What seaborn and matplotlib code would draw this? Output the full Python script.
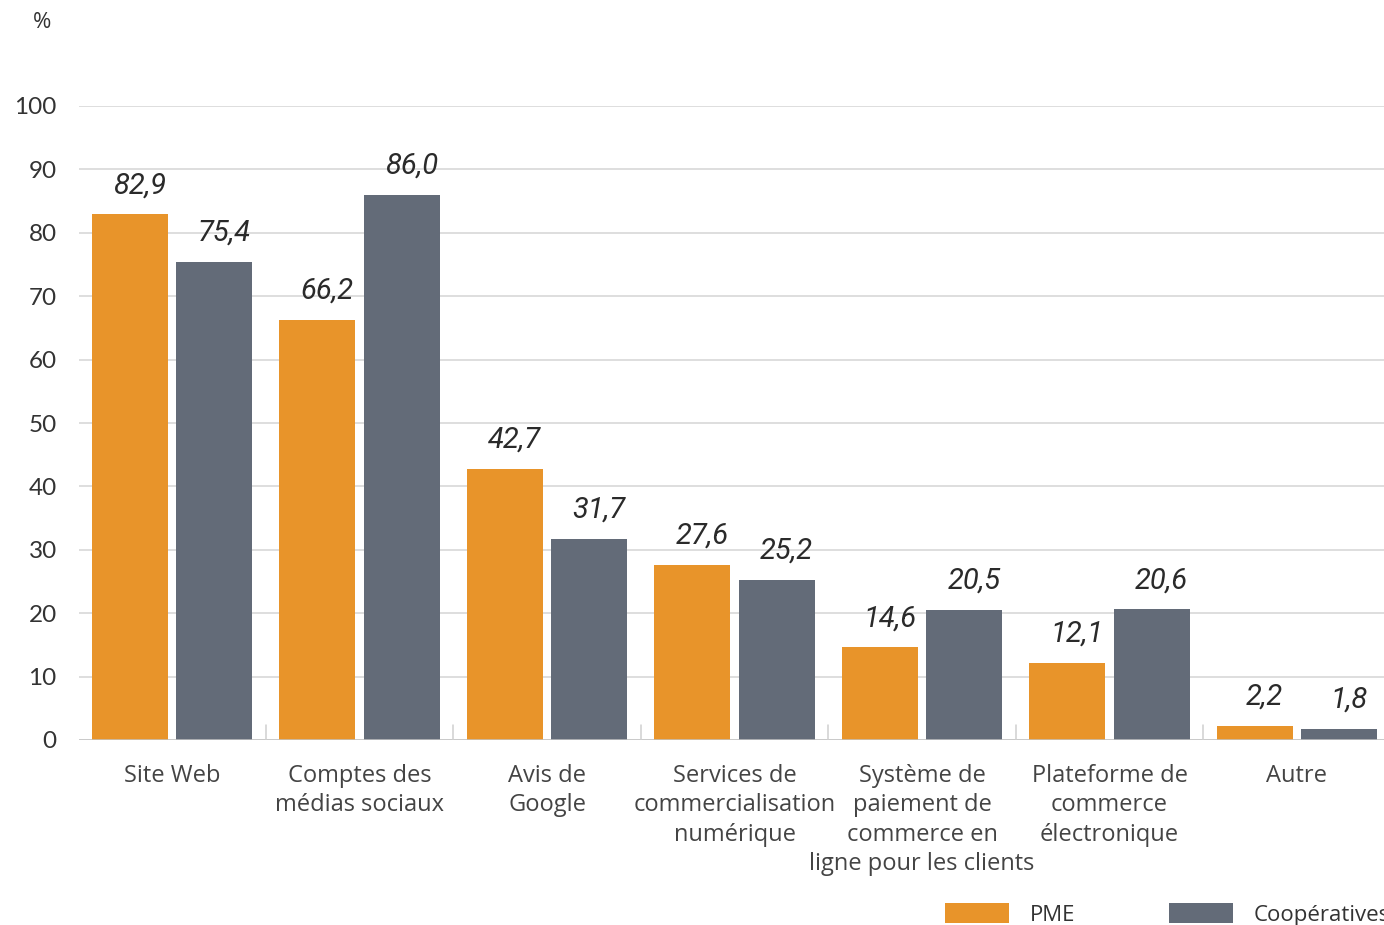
import matplotlib
matplotlib.use("Agg")
import matplotlib.pyplot as plt
from matplotlib.patches import Patch
import seaborn as sns
import pandas as pd

# Data
categories = [
    "Site Web",
    "Comptes des\nmédias sociaux",
    "Avis de\nGoogle",
    "Services de\ncommercialisation\nnumérique",
    "Système de\npaiement de\ncommerce en\nligne pour les clients",
    "Plateforme de\ncommerce\nélectronique",
    "Autre",
]
pme = [82.9, 66.2, 42.7, 27.6, 14.6, 12.1, 2.2]
coop = [75.4, 86.0, 31.7, 25.2, 20.5, 20.6, 1.8]
series = ["PME", "Coopératives"]
yticks = [0, 10, 20, 30, 40, 50, 60, 70, 80, 90, 100]

df = pd.DataFrame({
    "cat": categories * 2,
    "val": pme + coop,
    "grp": [series[0]] * len(categories) + [series[1]] * len(categories),
})

sns.set_theme(style="white")
plt.rcParams["font.family"] = ["Open Sans", "DejaVu Sans"]

W, H = 1384, 925
fig = plt.figure(figsize=(W / 100, H / 100), dpi=100)
# axes spans a little past the right edge of the figure
ax = fig.add_axes([79 / W, (H - 740) / H, 1312.5 / W, (740 - 106) / H])

orange = "#E8942A"
slate = "#636B78"
sns.barplot(data=df, x="cat", y="val", hue="grp", palette=[orange, slate],
            width=0.9, gap=0.1, ax=ax, legend=False, saturation=1, linewidth=0)

ax.set_xlim(-0.496, 6.504)
ax.set_ylim(0, 100)
ax.set_yticks(yticks)
ax.set_xlabel("")
ax.set_ylabel("")
for s in ["top", "right", "left", "bottom"]:
    ax.spines[s].set_visible(False)
ax.grid(axis="y", color="#d4d4d4", linewidth=1.1)
ax.grid(axis="x", visible=False)
ax.set_axisbelow(True)
ax.axhline(0, color="#c4c4c4", linewidth=1.8, zorder=3)

# small separators between groups
for i in range(len(categories) - 1):
    ax.plot([i + 0.5, i + 0.5], [0, 2.4], color="#d0d0d0", linewidth=1.1, zorder=3)

ax.tick_params(axis="y", length=0, pad=16, labelcolor="#333333")
ax.tick_params(axis="x", length=0, pad=17, labelsize=17, labelcolor="#444444")
for lab in ax.get_yticklabels():
    lab.set_fontfamily(["Lato", "DejaVu Sans"])
    lab.set_fontsize(17.5)
for lab in ax.get_xticklabels():
    lab.set_linespacing(1.31)

for cont in ax.containers:
    texts = ax.bar_label(cont, labels=[f"{v:.1f}".replace(".", ",") for v in cont.datavalues],
                         padding=11, fontsize=21, fontstyle="italic", color="#2a2a2a",
                         family=["Roboto", "DejaVu Sans"])
    for t in texts:
        t.xyann = (7, t.xyann[1])

fig.text(42 / W, 1 - 23 / H, "%", ha="center", va="center", fontsize=16, color="#333333")

handles = [Patch(facecolor=orange, edgecolor="none"), Patch(facecolor=slate, edgecolor="none")]
fig.legend(handles, series, loc="upper left", bbox_to_anchor=(945 / W, 1 - 903 / H),
           ncol=2, frameon=False, fontsize=16, borderpad=0, borderaxespad=0,
           handlelength=2.88, handleheight=1.0, handletextpad=0.95, columnspacing=4.2,
           labelcolor="#333333")

fig.savefig("out.png", dpi=100)
